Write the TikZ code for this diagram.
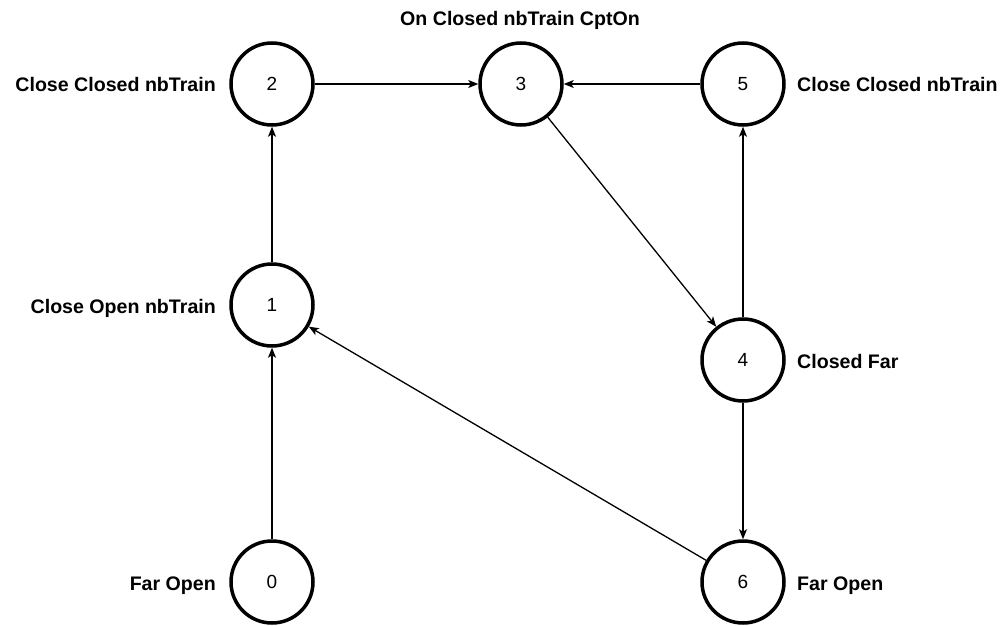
\documentclass[tikz,border=0pt]{standalone}
\usepackage{fontspec}
\setmainfont{Liberation Sans}
\usetikzlibrary{arrows.meta}
\begin{document}
\begin{tikzpicture}[x=1pt,y=-1pt,
  state/.style={circle,draw=black,line width=3.5pt,minimum size=82pt,inner sep=0pt,
    font=\fontsize{19}{22}\selectfont},
  lbl/.style={inner sep=0pt,font=\fontsize{19.6}{23}\selectfont\bfseries},
  edge/.style={line width=1.3pt,-{Stealth[length=10pt,width=8pt,inset=2.5pt]}}]
  \useasboundingbox (0,0) rectangle (1002,626);

  % states
  \node[state] (n2) at (272,84)  {2};
  \node[state] (n3) at (521,84)  {3};
  \node[state] (n5) at (743,84)  {5};
  \node[state] (n1) at (272,305) {1};
  \node[state] (n4) at (743,360) {4};
  \node[state] (n0) at (272,582) {0};
  \node[state] (n6) at (743,582) {6};

  % state descriptions
  \node[lbl,anchor=base east] (l2) at (216,92)  {Close Closed nbTrain};
  \node[lbl,anchor=base]      (l3) at (520,26)  {On Closed nbTrain CptOn};
  \node[lbl,anchor=base west] (l5) at (797,92)  {Close Closed nbTrain};
  \node[lbl,anchor=base east] (l1) at (216,313) {Close Open nbTrain};
  \node[lbl,anchor=base west] (l4) at (797,368) {Closed Far};
  \node[lbl,anchor=base east] (l0) at (216,590) {Far Open};
  \node[lbl,anchor=base west] (l6) at (797,590) {Far Open};

  % transitions
  \draw[edge] (n0) -- (n1);
  \draw[edge] (n1) -- (n2);
  \draw[edge] (n2) -- (n3);
  \draw[edge] (n5) -- (n3);
  \draw[edge] (n3) -- (n4);
  \draw[edge] (n4) -- (n5);
  \draw[edge] (n4) -- (n6);
  \draw[edge] (n6) -- (n1);
\end{tikzpicture}
\end{document}
